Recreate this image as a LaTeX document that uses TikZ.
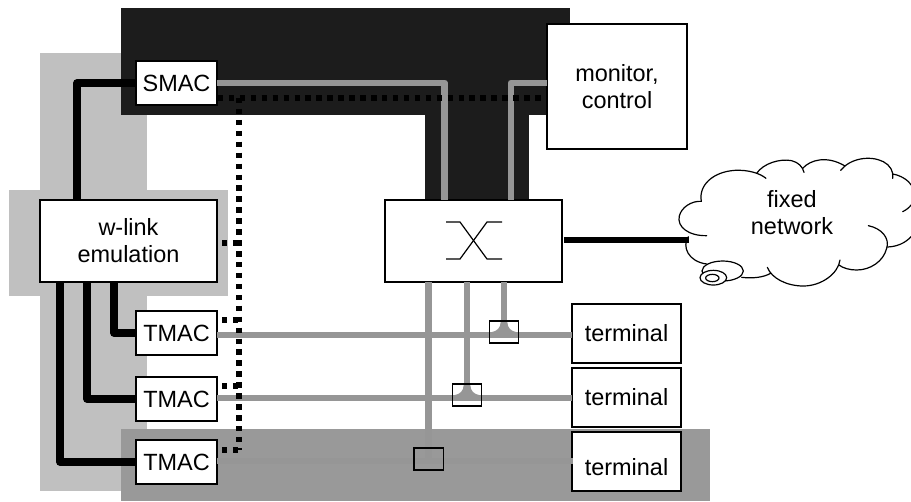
\documentclass[tikz,border=0pt]{standalone}
\usepackage{fontspec}
\setmainfont{Liberation Sans}
\tikzset{
  zone/.style={draw=none},
  box/.style={draw=black,fill=white,line width=1pt,inner sep=0pt,outer sep=0pt,align=center,font=\fontsize{17.6}{20.25}\selectfont},
  macbox/.style={box,minimum width=60.75pt,minimum height=33pt},
  bigbox/.style={box,minimum width=132.75pt,minimum height=61.5pt},
  termbox/.style={box,minimum width=81.75pt,minimum height=44.25pt},
  tap/.style={draw=black,line width=1pt,inner sep=0pt,outer sep=0pt,minimum width=22pt,minimum height=16.5pt},
  grayline/.style={draw=graylinec,line width=5.2pt},
  blackline/.style={draw=black,line width=5.5pt,line join=round},
  dotline/.style={draw=black,line width=4.2pt,dash pattern=on 4.1pt off 4.1pt},
  cloudline/.style={draw=black,line width=.9pt,line cap=round}
}
\definecolor{darkzone}{HTML}{1C1C1C}
\definecolor{lightzone}{HTML}{C0C0C0}
\definecolor{midzone}{HTML}{999999}
\definecolor{graylinec}{HTML}{969696}
\begin{document}
\begin{tikzpicture}[x=.75pt,y=-.75pt]
\useasboundingbox (0,0) rectangle (911,501);
% zones
\fill[lightzone] (40,53) rectangle (147,491);
\fill[lightzone] (9,190) rectangle (228,296);
\fill[darkzone] (121,8) rectangle (570,115);
\fill[darkzone] (425,115) rectangle (529,201);
\fill[midzone] (121,429) rectangle (710,501);
% boxes
\node[macbox] (smac) at (176.5,83) {SMAC};
\node[bigbox] (wlink) at (128.5,241) {w-link\\emulation};
\node[macbox] (tmaca) at (176.5,333) {TMAC};
\node[macbox] (tmacb) at (176.5,399) {TMAC};
\node[macbox] (tmacc) at (176.5,462) {TMAC};
\node[box,minimum width=105pt,minimum height=93.75pt] (mon) at (617,86.5) {monitor,\\control};
\node[bigbox] (sw) at (473.5,241) {};
\node[termbox] (terma) at (626.5,333.5) {terminal};
\node[termbox] (termb) at (626.5,397.5) {terminal};
\node[termbox] (termc) at (626.5,461.5) {\raisebox{-4pt}[\height][\depth]{terminal}};
% routing coordinates
\coordinate (cSmacX) at (77,83);
\coordinate (cAx) at (114,282);
\coordinate (cBx) at (87,282);
\coordinate (cCx) at (60,282);
\coordinate (cUpL) at (444.5,200);
\coordinate (cUpR) at (511,200);
\coordinate (dTop) at (239,98);
\coordinate (dBot) at (239,450);
\coordinate (dW) at (222,243);
\coordinate (dA) at (222,320);
\coordinate (dB) at (222,386);
\coordinate (dC) at (222,450);
\coordinate (dWe) at (239,243);
\coordinate (dAe) at (239,320);
\coordinate (dBe) at (239,386);
\coordinate (dSmac) at (218,98);
\coordinate (dMon) at (547,98);
\coordinate (smacR) at (217,83);
\coordinate (monL) at (547,83);
% tap boxes (positions)
\coordinate (tapApos) at (504,332);
\coordinate (tapBpos) at (467,395);
\coordinate (tapCpos) at (428.5,459);
% black links
\draw[blackline] (smac.west) -| (cSmacX |- wlink.north);
\draw[blackline] (cAx) |- (tmaca.west);
\draw[blackline] (cBx) |- (tmacb.west);
\draw[blackline] (cCx) |- (tmacc.west);
% gray links
\draw[grayline,line join=round] (smacR) -| (cUpL);
\draw[grayline,line join=round] (monL) -| (cUpR);
\draw[grayline] (tmaca.east) ++(0,2) -- ++(355,0);
\draw[grayline] (tmacb.east) ++(0,-1) -- ++(355,0);
\draw[grayline] (tmacc.east) ++(0,-1) -- ++(356,0);
\draw[grayline] (504,282) -- (504,335);
\draw[grayline] (467,282) -- (467,398);
\draw[grayline] (428.5,282) -- (428.5,461);
% flares at the taps
\fill[graylinec] (500.7,322) .. controls (500.5,328) and (497,331) .. (492,332) -- (516,332) .. controls (511,331) and (507.5,328) .. (507.3,322) -- cycle;
\fill[graylinec] (463.7,385) .. controls (463.5,391) and (460,394) .. (455,395) -- (479,395) .. controls (474,394) and (470.5,391) .. (470.3,385) -- cycle;
\node[tap] (tapa) at (tapApos) {};
\node[tap] (tapb) at (tapBpos) {};
\node[tap] (tapc) at (tapCpos) {};
% dotted control lines
\draw[dotline] (dTop) -- (dBot);
\draw[dotline] (dSmac) -- (dMon);
\draw[dotline] (dW) -- (dWe);
\draw[dotline] (dA) -- (dAe);
\draw[dotline] (dB) -- (dBe);
\draw[dotline] (dC) -- (dBot);
% switch symbol
\coordinate (xa) at (446,222);
\coordinate (xb) at (460,222);
\coordinate (xc) at (487,259);
\coordinate (xd) at (502,259);
\coordinate (xe) at (446,259);
\coordinate (xf) at (460,259);
\coordinate (xg) at (487,222);
\coordinate (xh) at (502,222);
\draw[line width=.9pt] (xa) -- (xb) -- (xc) -- (xd);
\draw[line width=.9pt] (xe) -- (xf) -- (xg) -- (xh);
% cloud
\begin{scope}[shift={(660,130)},x=.25pt,y=-.25pt]
\draw[cloudline] (140,317) .. controls (85,318) and (50,290) .. (58,258) .. controls (64,232) and (95,212) .. (124,214);
\draw[cloudline] (124,214) .. controls (115,165) and (160,125) .. (225,121) .. controls (265,119) and (300,130) .. (318,145);
\draw[cloudline] (290,130) .. controls (310,100) and (360,85) .. (395,92) .. controls (415,97) and (428,110) .. (432,127);
\draw[cloudline] (428,115) .. controls (450,90) and (500,75) .. (555,108);
\draw[cloudline] (542,121) .. controls (570,85) and (630,75) .. (670,95) .. controls (690,105) and (702,125) .. (698,145);
\draw[cloudline] (697,132) .. controls (720,135) and (745,150) .. (753,165);
\draw[cloudline] (753,225) .. controls (748,233) and (738,240) .. (728,245);
\draw[cloudline] (625,287) .. controls (665,295) and (690,325) .. (680,355);
\draw[cloudline] (682,351) .. controls (710,350) and (735,340) .. (753,320);
\draw[cloudline] (680,355) .. controls (670,395) and (630,420) .. (590,420) .. controls (570,420) and (550,415) .. (537,405);
\draw[cloudline] (540,390) .. controls (535,430) and (485,468) .. (430,468) .. controls (380,468) and (335,445) .. (322,412);
\draw[cloudline] (332,430) .. controls (310,442) and (280,446) .. (245,442);
\draw[cloudline] (85,320) .. controls (65,350) and (85,395) .. (140,402);
\draw[cloudline,fill=white] (188,423) ellipse [x radius=62,y radius=30];
\draw[cloudline,fill=white] (160,443) ellipse [x radius=40,y radius=22];
\draw[cloudline] (157,444) ellipse [x radius=20,y radius=11];
\end{scope}
\coordinate (cloudIn) at (689,240);
\coordinate (swOut) at (564,240);
\draw[draw=black,line width=5pt] (swOut) -- (cloudIn);
\node[align=center,inner sep=0pt,font=\fontsize{17.6}{20.25}\selectfont] (cloudtext) at (792,213) {fixed\\network};
\end{tikzpicture}
\end{document}
